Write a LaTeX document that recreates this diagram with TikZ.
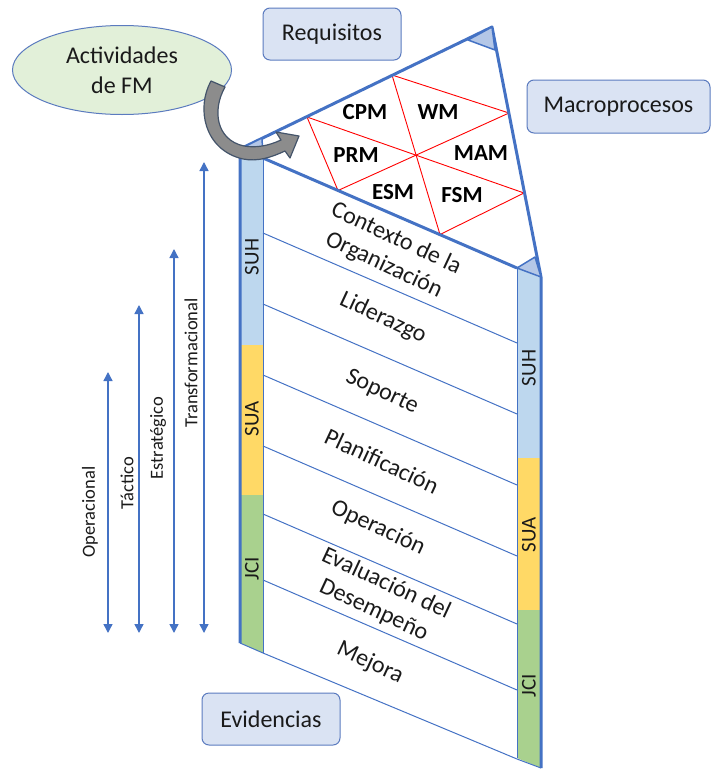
\documentclass[tikz,border=0pt]{standalone}
\usepackage{fontspec}
\setmainfont{Carlito}
\usetikzlibrary{arrows.meta,shapes.geometric}
\definecolor{frame}{HTML}{4472C4}
\definecolor{boxdraw}{HTML}{5B7BBF}
\definecolor{suh}{HTML}{BDD7EE}
\definecolor{sua}{HTML}{FFD966}
\definecolor{jci}{HTML}{A9D18E}
\definecolor{boxfill}{HTML}{DAE3F3}
\definecolor{ellfill}{HTML}{E2F0D9}
\definecolor{mark}{HTML}{B4C7E7}
\definecolor{txt}{HTML}{1A1A1A}
\definecolor{arrowfill}{HTML}{8C8C8C}
\definecolor{arrowdraw}{HTML}{44546A}
\tikzset{
  frameline/.style={draw=frame, line width=3pt, line join=round},
  thinline/.style={draw=frame, line width=1pt},
  redline/.style={draw=red, line width=0.9pt},
  corner/.style={fill=mark, draw=frame, line width=1.5pt, line join=round},
  tag/.style={rounded corners=7pt, draw=boxdraw, fill=boxfill, line width=1pt,
    font=\fontsize{24}{29}\selectfont, text=txt, inner sep=0pt},
  seclabel/.style={rotate=-25, align=center, font=\fontsize{24}{29}\selectfont,
    text=txt, inner sep=0pt},
  mlabel/.style={font=\bfseries\fontsize{23}{27}\selectfont, text=black, inner sep=0pt},
  collabel/.style={rotate=90, font=\fontsize{21}{25}\selectfont, text=txt, inner sep=0pt},
  levlabel/.style={rotate=90, font=\fontsize{18.5}{22}\selectfont, text=txt, inner sep=0pt},
  levarrow/.style={draw=frame, line width=1.4pt,
    {Triangle[width=9pt,length=9pt]}-{Triangle[width=9pt,length=9pt]}},
}
\begin{document}
\begin{tikzpicture}[x=1pt,y=-1pt]
\useasboundingbox (0,0) rectangle (711,769);

% main vertices of the folded shape
\coordinate (L) at (240,149);
\coordinate (T) at (492,27);
\coordinate (R) at (541,277);
\coordinate (Lb) at (263,158);
\coordinate (Rb) at (517,268);

% left column bands
\fill[suh] (240,149) -- (263,158) -- (263,345) -- (240,345) -- cycle;
\fill[sua] (240,345) rectangle (263,495);
\fill[jci] (240,495) -- (263,495) -- (263,653) -- (240,643) -- cycle;
% right column bands
\fill[suh] (517,268) -- (541,278) -- (541,458) -- (517,458) -- cycle;
\fill[sua] (517,458) rectangle (541,610);
\fill[jci] (517,610) -- (541,610) -- (541,768) -- (517,758) -- cycle;

% section dividers
\foreach \y in {233,304,375,446,514,580} {
  \draw[thinline] (263,\y) -- (517,\y+110);
}
\draw[thinline] (Lb) -- (263,653);
\draw[thinline] (Rb) -- (517,758);
\draw[thinline] (240,643) -- (263,653) -- (517,759) -- (541,768);

% macroprocess grid (under the frame)
\coordinate (A) at (392,75);
\coordinate (B) at (307,117);
\coordinate (C) at (509,113);
\coordinate (D) at (416,155);
\coordinate (E) at (338,190.5);
\coordinate (F) at (440,234.5);
\coordinate (G) at (524,193);
\draw[redline] (A) -- (C) -- (G) -- (F) -- (E) -- (B) -- cycle;
\draw[redline] (A) -- (F);
\draw[redline] (B) -- (G);
\draw[redline] (C) -- (E);

% outer frame
\draw[frameline] (240,643) -- (L) -- (T) -- (R) -- (541,768);
\draw[frameline] (Lb) -- (Rb);

\node[mlabel] (cpm) at (365,112) {CPM};
\node[mlabel] (wm) at (438,112) {WM};
\node[mlabel] (prm) at (356,155) {PRM};
\node[mlabel] (mam) at (481,153) {MAM};
\node[mlabel] (esm) at (393,192) {ESM};
\node[mlabel] (fsm) at (462,195) {FSM};

% corner markers
\draw[corner] (L) -- (262,138) -- (Lb) -- cycle;
\draw[corner] (468,40) -- (T) -- (495,50) -- cycle;
\draw[corner] (Rb) -- (535,257) -- (R) -- cycle;

% section labels
\node[seclabel] (ctx) at (390,252) {Contexto de la\\Organización};
\node[seclabel] (lid) at (383,318) {Liderazgo};
\node[seclabel] (sop) at (382,392) {Soporte};
\node[seclabel] (pla) at (382,461) {Planificación};
\node[seclabel] (ope) at (378,528) {Operación};
\node[seclabel] (eva) at (380,597) {Evaluación del\\Desempeño};
\node[seclabel] (mej) at (370,663) {Mejora};

% column labels
\node[collabel] (lsuh) at (252,257) {SUH};
\node[collabel] (lsua) at (252,419) {SUA};
\node[collabel] (ljci) at (252,569) {JCI};
\node[collabel] (rsuh) at (529,368) {SUH};
\node[collabel] (rsua) at (529,535) {SUA};
\node[collabel] (rjci) at (529,686) {JCI};

% level arrows
\coordinate (opb) at (108,633); \coordinate (opt) at (108,372);
\coordinate (tab) at (139,633); \coordinate (tat) at (139,305);
\coordinate (esb) at (174,633); \coordinate (est) at (174,249);
\coordinate (trb) at (204,633); \coordinate (trt) at (204,162);
\draw[levarrow] (opb) -- (opt);
\draw[levarrow] (tab) -- (tat);
\draw[levarrow] (esb) -- (est);
\draw[levarrow] (trb) -- (trt);
\node[levlabel] (opl) at (90,512) {Operacional};
\node[levlabel] (tal) at (127,483) {Táctico};
\node[levlabel] (esl) at (158,438) {Estratégico};
\node[levlabel] (trl) at (191,363) {Transformacional};

% boxes
\node[tag, minimum width=138pt, minimum height=52pt] (req) at (332,34) {Requisitos};
\node[tag, minimum width=183pt, minimum height=53pt] (mac) at (618.5,106.5) {Macroprocesos};
\node[tag, minimum width=138pt, minimum height=52pt] (evi) at (271,719) {Evidencias};
\node[ellipse, draw=boxdraw, fill=ellfill, line width=1pt, minimum width=219pt,
  minimum height=89pt, inner sep=0pt, align=center, text=txt,
  font=\fontsize{24}{30}\selectfont] (act) at (122,70) {Actividades\\de FM};

% curved arrow from the activities into the shape
\filldraw[fill=arrowfill, draw=arrowdraw, line width=1.2pt, line join=round]
  (211,81) .. controls (196,108) and (204,150) .. (243,159)
  .. controls (258,162) and (272,157) .. (285,151)
  -- (290,158) -- (299,136) -- (276,132) -- (281,140)
  .. controls (268,146) and (256,148) .. (244,146)
  .. controls (216,140) and (212,110) .. (225,87) -- cycle;
\end{tikzpicture}
\end{document}
